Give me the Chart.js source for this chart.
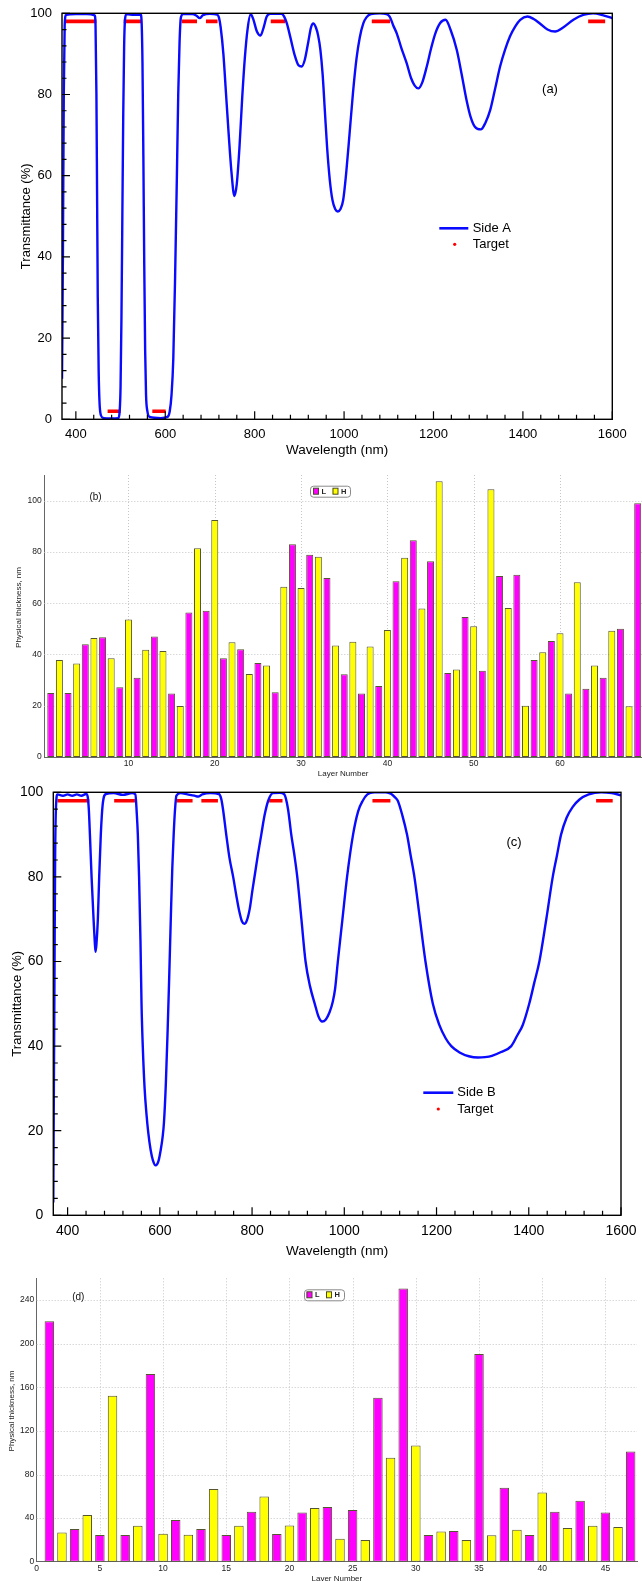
<!DOCTYPE html>
<html><head><meta charset="utf-8">
<script src="https://cdn.jsdelivr.net/npm/chart.js@4.4.1/dist/chart.umd.min.js"></script>
<style>
html,body{margin:0;padding:0;background:#fff;overflow:hidden;width:642px;height:1581px}
.p{position:absolute;left:0;width:642px}
canvas{display:block}
</style></head><body>
<div class="p" style="top:0;height:462px"><canvas id="ca" width="642" height="462"></canvas></div>
<div class="p" style="top:462px;height:316px"><canvas id="cb" width="642" height="316"></canvas></div>
<div class="p" style="top:778px;height:484px"><canvas id="cc" width="642" height="484"></canvas></div>
<div class="p" style="top:1262px;height:319px"><canvas id="cd" width="642" height="319"></canvas></div>
<script>
// ---------- Panel (a): Side A transmittance ----------
const wavelengthA = [369,371,373,375,378,400,425,442,444,446,447.5,449,451,453,456,462,480,495,498,500,502,504,506,508,510,513,530,545,547,549,551,553,555,557,560,565,590,605,610,614,618,622,626,629,632,635,640,660,670,677,684,700,716,720,724,730,736,742,748,754.6,760,766,772,778,784,791,797,805,813,820,827,835,860,866,872,880,890,898,905,912,920,926,931,937,942,947,952,957,962,968,974,980,986,992,998,1005,1012,1020,1028,1035,1043,1050,1060,1080,1095,1102,1110,1118,1128,1140,1150,1158,1166,1175,1185,1195,1204,1215,1227,1238,1252,1263,1274,1283,1293,1306,1316,1327,1338,1349,1360,1371,1383,1394,1410,1424,1438,1455,1472,1490,1513,1535,1557,1580,1600];
const transmittanceA = [10,40,80,97,99.6,99.8,99.8,99.5,97,80,55,30,12,4,1,0.3,0.2,0.3,2,8,25,50,75,92,98.5,99.8,99.6,99.7,98,88,65,38,17,6,2,0.6,0.3,0.6,2,6,15,35,60,80,93,99,99.8,99.8,99.4,98.8,99.5,99.9,99.7,99,96.5,90,80,70,61,55,58,67,79,89,96,99.8,98.5,95.5,94.5,96.5,99.2,99.9,99.9,99.2,97.5,94,89.5,87.2,86.9,88.5,93,96.5,97.5,96.5,94.5,91,85,76,67,59,54,51.8,51.2,51.8,54,61,70,80.5,89,94,97.5,99,99.8,100,99.8,99.2,97,95,91.5,87.7,84,82.2,81.5,83,86.9,91.5,95,97.6,98.4,96,91,85,78.6,74.5,72,71.4,73,76.2,81.5,86.9,91,94.3,96.8,98.4,99.2,98.6,97.5,96,95.5,96.5,98.4,99.6,100,99.5,98.8];
const targetStartA = [375,507,637,691,836,1062,1546,471,571];
const targetEndA   = [446,547,671,717,868,1103,1584,500,601];
const targetValueA = [98,98,98,98,98,98,98,2,2];

// ---------- Panel (c): Side B transmittance ----------
const wavelengthB = [369,370,371.5,373,375,378,390,400,410,420,430,440,443.5,446,448.4,452,456.3,459,460.6,462.5,465.6,468.5,472,476,483,500,520,540,547,550,552.3,555,558,560.3,563,567,571,575,580,585,591,597,602,606,609,613,617,620,624,627,630,633,636,645,660,675,683,692,710,728,733,737,744,751,759,766,772,778,783,789,795,801,806,813,820,827,835,845,860,870,878,885,892,898,907,916,926,936,944,952,960,968,975,980,986,996,1006,1019,1030,1040,1050,1065,1090,1102,1110,1116,1126,1136,1144,1152,1164,1176,1192,1206,1220,1232,1250,1270,1290,1305,1320,1340,1362,1375,1387,1401,1412,1423,1438,1452,1461,1470,1482,1495,1510,1530,1557,1580,1600];
const transmittanceB = [3,25,55,85,97,99.5,99.2,99.5,99.2,99.5,99.2,99.6,99,96,90,80,70,64.5,62.3,64,70,80,90,97,99.6,99.8,99.4,99.8,99.5,95,90,80,65,50,40,30,24,19.5,15.5,13,11.8,12.8,15.5,18.5,22,31,44,55,71,82,90,96,99.2,99.8,99.5,99.2,99,99.5,99.8,99.6,98.5,96,90,84.5,80,75.5,72,69.5,68.9,69.8,72.5,77,80.5,85.5,90,94.5,98,99.8,99.9,99.5,96,90,85,80,70,60,54,50,47,45.8,46.3,48,50.5,53.5,60,70,80,90,95.5,98,99.5,100,100,99.6,98.8,98,94.5,90,85,80,70,60,50,45,41.8,40,38.5,37.6,37.3,37.4,37.7,38.6,40,42.5,45,50,55,60,70,80,85,90,94,96.5,98.3,99.5,100,99.8,99.3];
const targetStartB = [378,501,636,690,837,1061,1546];
const targetEndB   = [447,546,671,726,866,1100,1582];
const targetValueB = [98,98,98,98,98,98,98];

// ---------- Panel (b): layer thicknesses, 69 layers ----------
const layersL_b = [1,3,5,7,9,11,13,15,17,19,21,23,25,27,29,31,33,35,37,39,41,43,45,47,49,51,53,55,57,59,61,63,65,67,69];
const thickL_b  = [25,25,44,46.7,27.2,30.9,47,24.8,56.4,57,38.5,42,36.7,25.3,83,78.9,69.8,32.3,24.8,27.7,68.6,84.5,76.4,32.8,54.6,33.6,70.6,71.1,37.8,45.2,24.8,26.6,30.9,50,99];
const layersH_b = [2,4,6,8,10,12,14,16,18,20,22,24,26,28,30,32,34,36,38,40,42,44,46,48,50,52,54,56,58,60,62,64,66,68];
const thickH_b  = [37.8,36.5,46.4,38.5,53.6,41.8,41.3,19.9,81.4,92.4,44.8,32.4,35.7,66.4,65.9,78.1,43.5,45,43.1,49.5,77.7,57.9,107.6,34.1,51,104.4,58.1,20,40.9,48.3,68.2,35.7,49.2,19.8];

// ---------- Panel (d): layer thicknesses, 47 layers ----------
const layersL_d = [1,3,5,7,9,11,13,15,17,19,21,23,25,27,29,31,33,35,37,39,41,43,45,47];
const thickL_d  = [220.7,30,24.5,24.5,172.1,38.2,30,24.5,45.9,25.4,45.2,50.1,47.4,150.4,250.7,24.5,28.1,190.5,67.9,24.5,45.9,55.9,45.2,101.2];
const layersH_d = [2,4,6,8,10,12,14,16,18,20,22,24,26,28,30,32,34,36,38,40,42,44,46];
const thickH_d  = [26.9,42.8,152.2,33,25.7,24.8,66.6,33,59.9,33.3,49.2,21.1,19.9,95.4,106.7,27.8,19.9,24.2,29.3,63.6,30.9,33,31.8];

// ---------- Axis tick definitions ----------
const wlMajorTicks = [400,600,800,1000,1200,1400,1600];
const wlMinorStep = 40;
const tMajorTicks = [0,20,40,60,80,100];
const tMinorStep = 4;
const layerTicks_b = [10,20,30,40,50,60];
const thickTicks_b = [0,20,40,60,80,100];
const layerTicks_d = [0,5,10,15,20,25,30,35,40,45];
const thickTicks_d = [0,40,80,120,160,200,240];

const FONT = '"Liberation Sans", Arial, Helvetica, sans-serif';
Chart.defaults.font.family = FONT;

function pts(xs, ys){ return xs.map((x,i)=>({x:x,y:ys[i]})); }
function targetPts(s, e, v){
  const out = [];
  s.forEach((a,i)=>{ out.push({x:a,y:v[i]},{x:e[i],y:v[i]},{x:e[i],y:null}); });
  return out;
}
const fixTicks = arr => s => { s.ticks = arr.map(v=>({value:v})); };

const spectrumDecor = {
  id:'spectrumDecor',
  afterDatasetsDraw(chart, args, o){
    const {ctx, chartArea:a} = chart;
    const xs = chart.scales.x, ys = chart.scales.y;
    ctx.save();
    ctx.strokeStyle = '#000';
    ctx.lineWidth = 1.2;
    ctx.beginPath();
    for (let v = 400; v <= xs.max + 0.01; v += wlMinorStep){
      const px = xs.getPixelForValue(v);
      const len = wlMajorTicks.includes(v) ? 8 : 4.5;
      ctx.moveTo(px, a.bottom); ctx.lineTo(px, a.bottom - len);
    }
    for (let v = 0; v <= 100.01; v += tMinorStep){
      const py = ys.getPixelForValue(v);
      const len = tMajorTicks.includes(v) ? 8 : 4.5;
      ctx.moveTo(a.left, py); ctx.lineTo(a.left + len, py);
    }
    ctx.stroke();
    ctx.lineWidth = 1.4;
    ctx.strokeRect(a.left, a.top, a.right - a.left, a.bottom - a.top);
    const L = o.legend;
    ctx.strokeStyle = '#0a0aff'; ctx.lineWidth = 2.6;
    ctx.beginPath(); ctx.moveTo(L.x1, L.y1); ctx.lineTo(L.x2, L.y1); ctx.stroke();
    ctx.fillStyle = '#ff0000';
    ctx.beginPath(); ctx.arc(L.dotX, L.y2, 1.6, 0, Math.PI*2); ctx.fill();
    ctx.fillStyle = '#000';
    ctx.font = '13px ' + FONT;
    ctx.textAlign = 'left'; ctx.textBaseline = 'middle';
    ctx.fillText(L.label, L.textX, L.y1);
    ctx.fillText('Target', L.textX, L.y2);
    ctx.textAlign = 'center';
    ctx.fillText(o.panel.text, o.panel.x, o.panel.y);
    ctx.restore();
  }
};

function spectrumChart(id, wl, tr, tgt, cfg){
  return new Chart(document.getElementById(id), {
    type:'scatter',
    data:{datasets:[
      {label:cfg.label, data:pts(wl,tr), showLine:true, borderColor:'#0a0aff', borderWidth:2.4, pointRadius:0, cubicInterpolationMode:'monotone', fill:false},
      {label:'Target', data:tgt, showLine:true, borderColor:'#ff0000', borderWidth:3.6, pointRadius:0, borderCapStyle:'butt', spanGaps:false, fill:false}
    ]},
    options:{
      responsive:false, animation:false, devicePixelRatio:1, events:[],
      layout:{padding:{top:cfg.padTop, right:cfg.padRight, left:0, bottom:0}},
      plugins:{legend:{display:false}, tooltip:{enabled:false}, spectrumDecor:{legend:cfg.legend, panel:cfg.panel}},
      scales:{
        x:{type:'linear', min:369, max:1600,
          afterBuildTicks:fixTicks(wlMajorTicks),
          ticks:{padding:7, color:'#000', font:{size:cfg.tickSize}, maxRotation:0, autoSkip:false, callback:v=>String(v)},
          grid:{display:false, drawTicks:false}, border:{display:false},
          title:{display:true, text:'Wavelength (nm)', color:'#000', font:{size:13.5}, padding:{top:0,bottom:cfg.xTitlePad}},
          afterFit:s=>{s.height=cfg.xH; s.paddingLeft=0; s.paddingRight=0;}},
        y:{type:'linear', min:0, max:100,
          afterBuildTicks:fixTicks(tMajorTicks),
          ticks:{padding:10, color:'#000', font:{size:cfg.tickSize}, callback:v=>String(v)},
          grid:{display:false, drawTicks:false}, border:{display:false},
          title:{display:true, text:'Transmittance (%)', color:'#000', font:{size:13}, padding:{top:cfg.yTitlePad,bottom:0}},
          afterFit:s=>{s.width=cfg.yW; s.paddingTop=0; s.paddingBottom=0;}}
      }
    },
    plugins:[spectrumDecor]
  });
}

spectrumChart('ca', wavelengthA, transmittanceA, targetPts(targetStartA,targetEndA,targetValueA), {
  label:'Side A', padTop:13.3, padRight:29.7, xH:42.7, yW:62, tickSize:13, xTitlePad:3.4, yTitlePad:18.2,
  legend:{x1:439.3, x2:468.3, y1:228.3, dotX:454.7, y2:244.3, textX:472.7, label:'Side A'},
  panel:{text:'(a)', x:550, y:89}
});
spectrumChart('cc', wavelengthB, transmittanceB, targetPts(targetStartB,targetEndB,targetValueB), {
  label:'Side B', padTop:14.3, padRight:21, xH:46.7, yW:53.3, tickSize:14, xTitlePad:2.9, yTitlePad:9.7,
  legend:{x1:423.3, x2:453.3, y1:314.7, dotX:438.3, y2:331, textX:457.3, label:'Side B'},
  panel:{text:'(c)', x:514, y:64}
});

// ---------- bar panels ----------
const barGrid = {
  id:'barGrid',
  beforeDatasetsDraw(chart){
    const {ctx, chartArea:a} = chart;
    const xs = chart.scales.x, ys = chart.scales.y;
    ctx.save();
    ctx.strokeStyle = '#c6c6c6'; ctx.lineWidth = 1; ctx.setLineDash([1,2]);
    ctx.beginPath();
    xs.ticks.forEach(t => { if (t.value === 0) return; const px = Math.round(xs.getPixelForValue(t.value)) + 0.5; ctx.moveTo(px, a.top); ctx.lineTo(px, a.bottom); });
    ys.ticks.forEach(t => { if (t.value === 0) return; const py = Math.round(ys.getPixelForValue(t.value)) + 0.5; ctx.moveTo(a.left, py); ctx.lineTo(a.right, py); });
    ctx.stroke();
    ctx.restore();
  },
  afterDraw(chart, args, o){
    const ctx = chart.ctx;
    ctx.save();
    const b = o.box;
    ctx.fillStyle = '#fff'; ctx.strokeStyle = '#8a8a8a'; ctx.lineWidth = 1;
    ctx.beginPath();
    if (ctx.roundRect) ctx.roundRect(b.x+0.5, b.y+0.5, b.w, b.h, 3); else ctx.rect(b.x+0.5, b.y+0.5, b.w, b.h);
    ctx.fill(); ctx.stroke();
    ctx.strokeStyle = '#4a4a2a';
    ctx.fillStyle = '#ff00ff'; ctx.fillRect(b.sL, b.y+2.5, 5.5, 6); ctx.strokeRect(b.sL+0.5, b.y+2.5, 5, 6);
    ctx.fillStyle = '#ffff00'; ctx.fillRect(b.sH, b.y+2.5, 5.5, 6); ctx.strokeRect(b.sH+0.5, b.y+2.5, 5, 6);
    ctx.fillStyle = '#222'; ctx.font = 'bold 7.5px ' + FONT; ctx.textAlign = 'left'; ctx.textBaseline = 'middle';
    ctx.fillText('L', b.sL + 8.5, b.y + b.h/2 + 0.5);
    ctx.fillText('H', b.sH + 8.5, b.y + b.h/2 + 0.5);
    ctx.font = '10px ' + FONT; ctx.textAlign = 'center'; ctx.fillStyle = '#111';
    ctx.fillText(o.panel.text, o.panel.x, o.panel.y);
    // y-axis title
    ctx.font = '8px ' + FONT; ctx.fillStyle = '#222';
    ctx.translate(o.yTitle.x, o.yTitle.y); ctx.rotate(-Math.PI/2);
    ctx.fillText('Physical thickness, nm', 0, 0);
    ctx.restore();
  }
};

function layerChart(id, lx, ly, hx, hy, cfg){
  return new Chart(document.getElementById(id), {
    type:'bar',
    data:{datasets:[
      {label:'L', data:pts(lx,ly), backgroundColor:'#ff00ff'},
      {label:'H', data:pts(hx,hy), backgroundColor:'#ffff00'}
    ]},
    options:{
      responsive:false, animation:false, devicePixelRatio:1, events:[],
      layout:{padding:{top:cfg.padTop, right:cfg.padRight, left:0, bottom:0}},
      datasets:{bar:{grouped:false, barPercentage:cfg.barPct, categoryPercentage:1, borderWidth:1, borderColor:'#55552f', borderSkipped:false}},
      plugins:{legend:{display:false}, tooltip:{enabled:false}, barGrid:{box:cfg.box, panel:cfg.panel, yTitle:cfg.yTitle}},
      scales:{
        x:{type:'linear', offset:false, min:cfg.xMin, max:cfg.xMax,
          afterBuildTicks:fixTicks(cfg.xTicks),
          ticks:{padding:2, color:'#222', font:{size:8.5}, maxRotation:0, autoSkip:false, callback:v=>String(v)},
          grid:{display:false, offset:false, drawTicks:false},
          border:{display:true, color:'#666', width:1},
          title:{display:true, text:'Layer Number', color:'#222', font:{size:8, lineHeight:1}, padding:{top:0,bottom:cfg.xTitlePad}},
          afterFit:s=>{s.height=cfg.xH; s.paddingLeft=0; s.paddingRight=0;}},
        y:{type:'linear', min:0, max:cfg.yMax,
          afterBuildTicks:fixTicks(cfg.yTicks),
          ticks:{padding:2.5, color:'#222', font:{size:8.5}, callback:v=>String(v)},
          grid:{display:false, drawTicks:false},
          border:{display:true, color:'#666', width:1},
          title:{display:false},
          afterFit:s=>{s.width=cfg.yW; s.paddingTop=0; s.paddingBottom=0;}}
      }
    },
    plugins:[barGrid]
  });
}

layerChart('cb', layersL_b, thickL_b, layersH_b, thickH_b, {
  padTop:13, padRight:0, xMin:0.25, xMax:69.5, xTicks:layerTicks_b, yMax:110, yTicks:thickTicks_b, barPct:0.81,
  xH:21, yW:44.3, xTitlePad:0.5,
  yTitle:{x:18.3, y:145.5},
  box:{x:310, y:23.7, w:40, h:11, sL:313, sH:332.5},
  panel:{text:'(b)', x:95.5, y:35}
});
layerChart('cd', layersL_d, thickL_d, layersH_d, thickH_d, {
  padTop:16.3, padRight:5, xMin:0, xMax:47.5, xTicks:layerTicks_d, yMax:260, yTicks:thickTicks_d, barPct:0.75,
  xH:19.3, yW:36.7, xTitlePad:-1.3,
  yTitle:{x:11.7, y:149},
  box:{x:304, y:27.3, w:40, h:11, sL:306.5, sH:326},
  panel:{text:'(d)', x:78.3, y:35}
});
</script>
</body></html>
